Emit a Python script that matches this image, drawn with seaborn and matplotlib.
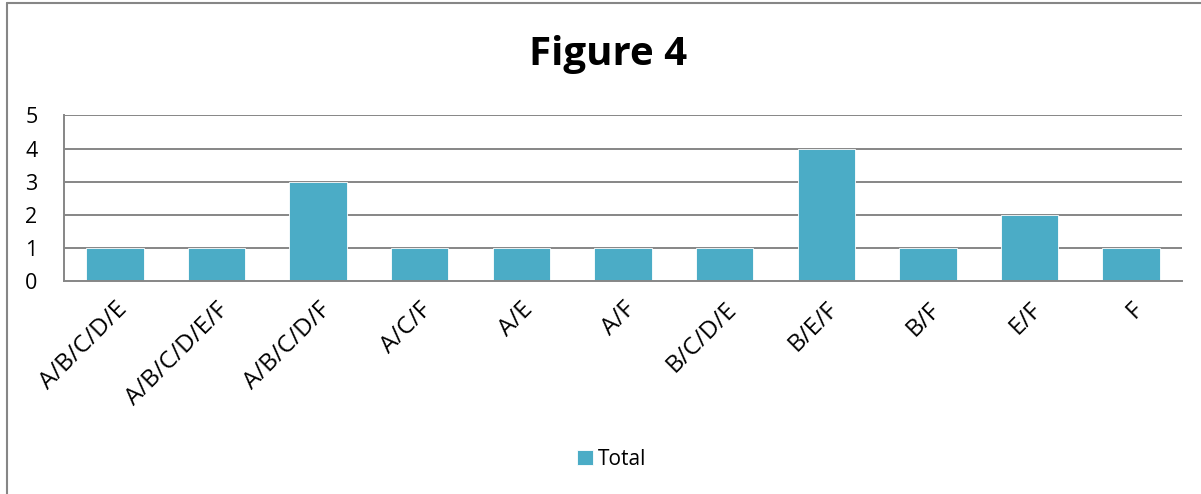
import matplotlib
matplotlib.use("Agg")
import matplotlib.pyplot as plt
from matplotlib.lines import Line2D
import seaborn as sns
import pandas as pd

categories = ["A/B/C/D/E", "A/B/C/D/E/F", "A/B/C/D/F", "A/C/F", "A/E", "A/F",
              "B/C/D/E", "B/E/F", "B/F", "E/F", "F"]
totals = [1, 1, 3, 1, 1, 1, 1, 4, 1, 2, 1]
y_ticks = [0, 1, 2, 3, 4, 5]

sns.set_theme(style="white")
plt.rcParams["font.family"] = ["Open Sans", "DejaVu Sans"]
plt.rcParams["text.color"] = "black"
plt.rcParams["xtick.color"] = "black"
plt.rcParams["ytick.color"] = "black"

W, H = 1201, 494
fig = plt.figure(figsize=(W / 100, H / 100), dpi=100)
ax = fig.add_axes([64 / W, 1 - 281 / H, (1182 - 64) / W, (281 - 115.5) / H])

df = pd.DataFrame({"category": categories, "Total": totals})
grid_col = "#868686"
bar_col = "#4BACC6"

ax.set_axisbelow(True)
for v in y_ticks[1:]:
    ax.axhline(v, color=grid_col, lw=1.4, zorder=0)

sns.barplot(data=df, x="category", y="Total", color=bar_col, width=0.565,
            saturation=1, ax=ax, label="Total", edgecolor="white", linewidth=0.6,
            zorder=2, legend=False)
handles, labels = ax.get_legend_handles_labels()
if ax.get_legend() is not None:
    ax.get_legend().remove()

ax.set_xlim(-0.5, len(categories) - 0.5)
ax.set_ylim(0, 5)
ax.set_yticks(y_ticks)
ax.set_yticklabels([str(t) for t in y_ticks], fontsize=15.5)
ax.tick_params(axis="y", length=0, pad=19)
ax.tick_params(axis="x", length=0, pad=12)
ax.set_xticks(range(len(categories)))
ax.set_xticklabels(categories, rotation=45, ha="right", rotation_mode="anchor",
                   fontsize=17.5)
ax.set_xlabel("")
ax.set_ylabel("")
for s in ["top", "right"]:
    ax.spines[s].set_visible(False)
for s in ["left", "bottom"]:
    ax.spines[s].set_color(grid_col)
    ax.spines[s].set_linewidth(1.4)

fig.text(608 / W, 1 - 55 / H, "Figure 4", ha="center", va="center",
         fontsize=29, fontweight="bold", color="black")

fig.legend(handles, labels, loc="center", bbox_to_anchor=(612 / W, 1 - 459 / H),
           frameon=False, fontsize=15, handlelength=0.75, handleheight=0.75,
           handletextpad=0.25)

# outer frame (top and left edges)
fig.add_artist(Line2D([6.5 / W, 1.0], [1 - 3.5 / H, 1 - 3.5 / H],
                      transform=fig.transFigure, color=grid_col, lw=1.5))
fig.add_artist(Line2D([6.5 / W, 6.5 / W], [0.0, 1 - 3.5 / H],
                      transform=fig.transFigure, color=grid_col, lw=1.5))

fig.savefig("out.png", dpi=100, facecolor="white")
